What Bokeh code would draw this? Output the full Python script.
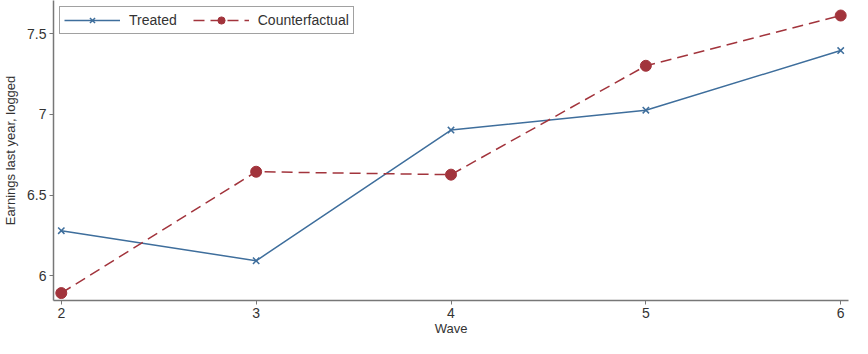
from bokeh.plotting import figure
from bokeh.models import Range1d, FixedTicker, Legend, LegendItem
from bokeh.embed import file_html
from bokeh.resources import INLINE

waves = [2, 3, 4, 5, 6]
treated = [6.28, 6.094, 6.903, 7.026, 7.395]
counterfactual = [5.894, 6.645, 6.627, 7.301, 7.612]
y_ticks = [6, 6.5, 7, 7.5]
y_labels = {6: "6", 6.5: "6.5", 7: "7", 7.5: "7.5"}

BLUE = "#3e6e9c"
RED = "#a2343c"
FONT = "Liberation Sans"

p = figure(width=852, height=338, output_backend="svg", toolbar_location=None,
           x_range=Range1d(1.96, 6.04), y_range=Range1d(5.848, 7.705),
           min_border_left=42, min_border_right=4, min_border_top=0, min_border_bottom=34)
p.outline_line_color = None
p.xgrid.visible = False
p.ygrid.visible = False

r1 = p.line(waves, treated, line_color=BLUE, line_width=1.5)
r1m = p.scatter(waves, treated, marker="x", size=9, line_color=BLUE, line_width=1.5)
r2 = p.line(waves, counterfactual, line_color=RED, line_width=1.5, line_dash="11 6")
r2m = p.scatter(waves, counterfactual, marker="circle", size=11, fill_color=RED, line_color=RED)

for ax in (p.xaxis[0], p.yaxis[0]):
    ax.axis_line_color = "#777777"
    ax.axis_line_width = 1.5
    ax.major_tick_line_color = "#777777"
    ax.major_tick_out = 4
    ax.major_tick_in = 0
    ax.minor_tick_line_color = None
    ax.major_label_text_font = FONT
    ax.major_label_text_font_size = "14px"
    ax.major_label_text_color = "#333333"
    ax.axis_label_text_font = FONT
    ax.axis_label_text_font_size = "13px"
    ax.axis_label_text_font_style = "normal"
    ax.axis_label_text_color = "#333333"

p.xaxis[0].ticker = FixedTicker(ticks=waves)
p.xaxis[0].axis_label = "Wave"
p.xaxis[0].axis_label_standoff = 0
p.xaxis[0].major_label_standoff = 3
p.yaxis[0].ticker = FixedTicker(ticks=y_ticks)
p.yaxis[0].major_label_overrides = y_labels
p.yaxis[0].major_label_orientation = "horizontal"
p.yaxis[0].axis_label = "Earnings last year, logged"
p.yaxis[0].axis_label_standoff = 6
p.yaxis[0].major_label_standoff = 3

legend = Legend(items=[LegendItem(label="Treated", renderers=[r1, r1m]),
                       LegendItem(label="Counterfactual", renderers=[r2, r2m])],
                location="top_left", orientation="horizontal",
                glyph_width=56, glyph_height=18, label_text_font=FONT,
                label_text_font_size="14px", label_text_color="#333333",
                border_line_color="#444444", border_line_width=1,
                margin=6, padding=4, spacing=16, label_standoff=9,
                label_height=16)
p.add_layout(legend)

open("out.html", "w").write(file_html(p, INLINE))
